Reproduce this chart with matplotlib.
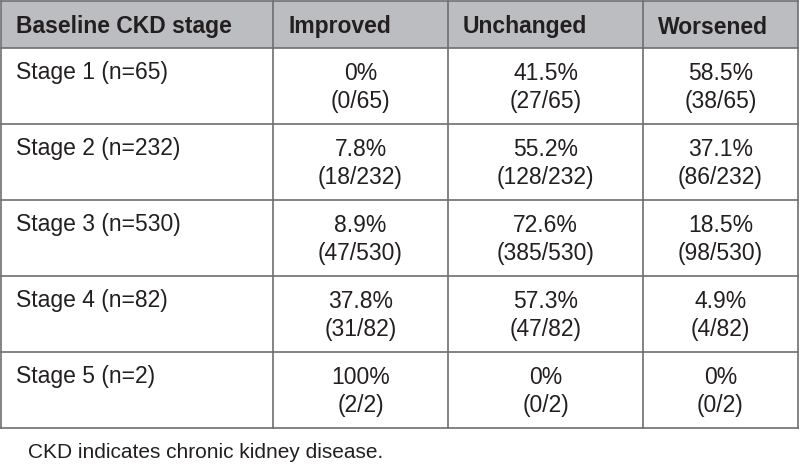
import matplotlib
matplotlib.use("Agg")
import matplotlib.pyplot as plt
from matplotlib.patches import Rectangle

# table content
headers = ["Baseline CKD stage", "Improved", "Unchanged", "Worsened"]
stages = ["Stage 1 (n=65)", "Stage 2 (n=232)", "Stage 3 (n=530)", "Stage 4 (n=82)", "Stage 5 (n=2)"]
improved_pct = ["0%", "7.8%", "8.9%", "37.8%", "100%"]
improved_n = ["(0/65)", "(18/232)", "(47/530)", "(31/82)", "(2/2)"]
unchanged_pct = ["41.5%", "55.2%", "72.6%", "57.3%", "0%"]
unchanged_n = ["(27/65)", "(128/232)", "(385/530)", "(47/82)", "(0/2)"]
worsened_pct = ["58.5%", "37.1%", "18.5%", "4.9%", "0%"]
worsened_n = ["(38/65)", "(86/232)", "(98/530)", "(4/82)", "(0/2)"]
footnote = "CKD indicates chronic kidney disease."

plt.rcParams['font.family'] = ['Liberation Sans', 'DejaVu Sans']

fig = plt.figure(figsize=(8, 4.65), dpi=100)
ax = fig.add_axes([0, 0, 1, 1])
ax.set_xlim(0, 800)
ax.set_ylim(465, 0)
ax.axis('off')

col_x = [1, 273, 448, 643, 798]
header_h = 48
row_h = 76
line_color = '#6d6e71'
text_color = '#231f20'
fs = 16.5

# header band
ax.add_patch(Rectangle((col_x[0], 1), col_x[-1] - col_x[0], header_h - 1,
                       facecolor='#bcbdc0', edgecolor='none'))
for i, h in enumerate(headers):
    ax.text(col_x[i] + 15, header_h / 2 + 3, h, fontsize=fs, fontweight='bold',
            color=text_color, ha='left', va='center')

cols = [(improved_pct, improved_n), (unchanged_pct, unchanged_n), (worsened_pct, worsened_n)]
for r, stage in enumerate(stages):
    top = header_h + r * row_h
    ax.text(col_x[0] + 15, top + 24, stage, fontsize=fs, color=text_color,
            ha='left', va='center')
    for c, (pct, n) in enumerate(cols):
        cx = (col_x[c + 1] + col_x[c + 2]) / 2
        ax.text(cx, top + 25, pct[r], fontsize=fs, color=text_color, ha='center', va='center')
        ax.text(cx, top + 53, n[r], fontsize=fs, color=text_color, ha='center', va='center')

bottom = header_h + len(stages) * row_h
# grid lines
for x in col_x:
    ax.plot([x, x], [1, bottom], color=line_color, lw=1.2)
for y in [1, header_h] + [header_h + (r + 1) * row_h for r in range(len(stages))]:
    ax.plot([col_x[0], col_x[-1]], [y, y], color=line_color, lw=1.2)

ax.text(28, 452, footnote, fontsize=15, color=text_color, ha='left', va='center')

fig.savefig('out.png', dpi=100)
